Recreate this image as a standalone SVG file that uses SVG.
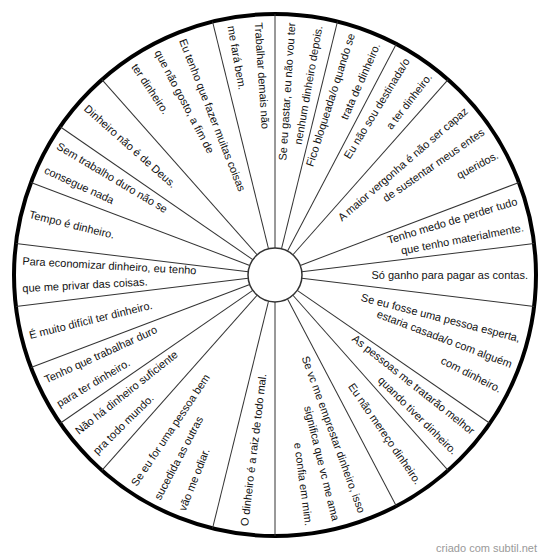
<svg xmlns="http://www.w3.org/2000/svg" width="550" height="559" viewBox="0 0 550 559">
<style>
.r{font-family:"Liberation Sans",Arial,sans-serif;font-size:11px;fill:#111;text-anchor:end}
.l{font-family:"Liberation Sans",Arial,sans-serif;font-size:11px;fill:#111;text-anchor:start}
.div line{stroke:#333;stroke-width:1}
</style>
<rect width="550" height="559" fill="#fff"/>
<circle cx="275" cy="275" r="261" fill="#fff" stroke="#000" stroke-width="4"/>
<g id="connectors" class="div">
<line x1="275" y1="248" x2="275" y2="14"/>
<line x1="275" y1="248" x2="275" y2="14" transform="rotate(13.846 275 275)"/>
<line x1="275" y1="248" x2="275" y2="14" transform="rotate(27.692 275 275)"/>
<line x1="275" y1="248" x2="275" y2="14" transform="rotate(41.538 275 275)"/>
<line x1="275" y1="248" x2="275" y2="14" transform="rotate(69.231 275 275)"/>
<line x1="275" y1="248" x2="275" y2="14" transform="rotate(83.077 275 275)"/>
<line x1="275" y1="248" x2="275" y2="14" transform="rotate(96.923 275 275)"/>
<line x1="275" y1="248" x2="275" y2="14" transform="rotate(124.615 275 275)"/>
<line x1="275" y1="248" x2="275" y2="14" transform="rotate(138.462 275 275)"/>
<line x1="275" y1="248" x2="275" y2="14" transform="rotate(152.308 275 275)"/>
<line x1="275" y1="248" x2="275" y2="14" transform="rotate(180 275 275)"/>
<line x1="275" y1="248" x2="275" y2="14" transform="rotate(193.846 275 275)"/>
<line x1="275" y1="248" x2="275" y2="14" transform="rotate(221.538 275 275)"/>
<line x1="275" y1="248" x2="275" y2="14" transform="rotate(235.385 275 275)"/>
<line x1="275" y1="248" x2="275" y2="14" transform="rotate(249.231 275 275)"/>
<line x1="275" y1="248" x2="275" y2="14" transform="rotate(263.077 275 275)"/>
<line x1="275" y1="248" x2="275" y2="14" transform="rotate(276.923 275 275)"/>
<line x1="275" y1="248" x2="275" y2="14" transform="rotate(290.769 275 275)"/>
<line x1="275" y1="248" x2="275" y2="14" transform="rotate(304.615 275 275)"/>
<line x1="275" y1="248" x2="275" y2="14" transform="rotate(318.462 275 275)"/>
<line x1="275" y1="248" x2="275" y2="14" transform="rotate(346.154 275 275)"/>
</g>
<circle cx="275" cy="275" r="27" fill="#fff" stroke="#333" stroke-width="1.5"/>
<g id="n1"><text class="r" x="528" y="278.5" transform="rotate(-86.177 275 275)">Se eu gastar, eu não vou ter</text><text class="r" x="528" y="278.5" transform="rotate(-79.977 275 275)">nenhum dinheiro depois.</text></g>
<g id="n2"><text class="r" x="528" y="278.5" transform="rotate(-72.331 275 275)">Fico bloqueada/o quando se</text><text class="r" x="528" y="278.5" transform="rotate(-66.131 275 275)">trata de dinheiro.</text></g>
<g id="n3"><text class="r" x="528" y="278.5" transform="rotate(-58.485 275 275)">Eu não sou destinada/o</text><text class="r" x="528" y="278.5" transform="rotate(-52.285 275 275)">a ter dinheiro.</text></g>
<g id="n4"><text class="r" x="528" y="278.5" transform="rotate(-40.815 275 275)">A maior vergonha é não ser capaz</text><text class="r" x="528" y="278.5" transform="rotate(-34.615 275 275)">de sustentar meus entes</text><text class="r" x="528" y="278.5" transform="rotate(-28.415 275 275)">queridos.</text></g>
<g id="n5"><text class="r" x="528" y="278.5" transform="rotate(-16.946 275 275)">Tenho medo de perder tudo</text><text class="r" x="528" y="278.5" transform="rotate(-10.746 275 275)">que tenho materialmente.</text></g>
<g id="n6"><text class="r" x="528" y="278.5">Só ganho para pagar as contas.</text></g>
<g id="n7"><text class="r" x="528" y="278.5" transform="rotate(14.569 275 275)">Se eu fosse uma pessoa esperta,</text><text class="r" x="528" y="278.5" transform="rotate(20.769 275 275)">estaria casada/o com alguém</text><text class="r" x="528" y="278.5" transform="rotate(26.969 275 275)">com dinheiro.</text></g>
<g id="n8"><text class="r" x="528" y="278.5" transform="rotate(38.438 275 275)">As pessoas me tratarão melhor</text><text class="r" x="528" y="278.5" transform="rotate(44.638 275 275)">quando tiver dinheiro.</text></g>
<g id="n9"><text class="r" x="528" y="278.5" transform="rotate(55.385 275 275)">Eu não mereço dinheiro.</text></g>
<g id="n10"><text class="r" x="528" y="278.5" transform="rotate(69.954 275 275)">Se vc me emprestar dinheiro, isso</text><text class="r" x="528" y="278.5" transform="rotate(76.154 275 275)">significa que vc me ama</text><text class="r" x="528" y="278.5" transform="rotate(82.354 275 275)">e confia em mim.</text></g>
<g id="n11"><text class="l" x="22" y="278.5" transform="rotate(-83.077 275 275)">O dinheiro é a raiz de todo mal.</text></g>
<g id="n12"><text class="l" x="22" y="278.5" transform="rotate(-56.108 275 275)">Se eu for uma pessoa bem</text><text class="l" x="22" y="278.5" transform="rotate(-62.308 275 275)">sucedida as outras</text><text class="l" x="22" y="278.5" transform="rotate(-68.508 275 275)">vão me odiar.</text></g>
<g id="n13"><text class="l" x="22" y="278.5" transform="rotate(-38.438 275 275)">Não há dinheiro suficiente</text><text class="l" x="22" y="278.5" transform="rotate(-44.638 275 275)">pra todo mundo.</text></g>
<g id="n14"><text class="l" x="22" y="278.5" transform="rotate(-24.592 275 275)">Tenho que trabalhar duro</text><text class="l" x="22" y="278.5" transform="rotate(-30.792 275 275)">para ter dinheiro.</text></g>
<g id="n15"><text class="l" x="22" y="278.5" transform="rotate(-13.846 275 275)">É muito difícil ter dinheiro.</text></g>
<g id="n16"><text class="l" x="22" y="278.5" transform="rotate(3.1 275 275)">Para economizar dinheiro, eu tenho</text><text class="l" x="22" y="278.5" transform="rotate(-3.1 275 275)">que me privar das coisas.</text></g>
<g id="n17"><text class="l" x="22" y="278.5" transform="rotate(13.846 275 275)">Tempo é dinheiro.</text></g>
<g id="n18"><text class="l" x="22" y="278.5" transform="rotate(30.792 275 275)">Sem trabalho duro não se</text><text class="l" x="22" y="278.5" transform="rotate(24.592 275 275)">consegue nada</text></g>
<g id="n19"><text class="l" x="22" y="278.5" transform="rotate(41.538 275 275)">Dinheiro não é de Deus.</text></g>
<g id="n20"><text class="l" x="22" y="278.5" transform="rotate(68.508 275 275)">Eu tenho que fazer muitas coisas</text><text class="l" x="22" y="278.5" transform="rotate(62.308 275 275)">que não gosto, a fim de</text><text class="l" x="22" y="278.5" transform="rotate(56.108 275 275)">ter dinheiro.</text></g>
<g id="n21"><text class="l" x="22" y="278.5" transform="rotate(86.177 275 275)">Trabalhar demais não</text><text class="l" x="22" y="278.5" transform="rotate(79.977 275 275)">me fará bem.</text></g>
<text x="537" y="552" font-family="Liberation Sans, Arial, sans-serif" font-size="11" fill="#999" text-anchor="end">criado com subtil.net</text>
</svg>
